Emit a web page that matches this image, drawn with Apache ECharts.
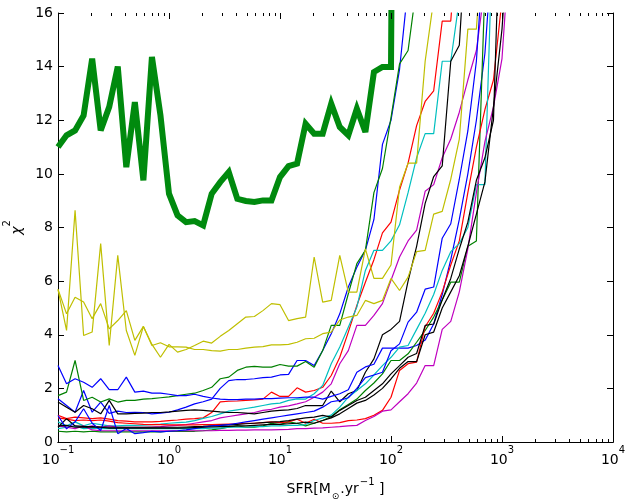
<!DOCTYPE html>
<html lang="en">
<head>
    <meta charset="UTF-8">
    <title>chi2 vs SFR</title>
    <script src="https://cdn.jsdelivr.net/npm/echarts@6/dist/echarts.min.js"></script>
    <style>
        html, body { margin: 0; padding: 0; background: #fff; }
    </style>
</head>
<body>
<div id="main" style="width:626px;height:504px;"></div>

<script type="text/javascript">
    // SFR grid (log spaced), one value per sample index
    var XS = [0.1, 0.1194, 0.1425, 0.1701, 0.2031, 0.2424, 0.2894, 0.3455, 0.4125, 0.4924,
        0.5878, 0.7017, 0.8377, 1.0, 1.194, 1.425, 1.701, 2.031, 2.424, 2.894,
        3.455, 4.125, 4.924, 5.878, 7.017, 8.377, 10.0, 11.94, 14.25, 17.01,
        20.31, 24.24, 28.94, 34.55, 41.25, 49.24, 58.78, 70.17, 83.77, 100.0,
        119.4, 142.5, 170.1, 203.1, 242.4, 289.4, 345.5, 412.5, 492.4, 587.8,
        701.7, 837.7, 1000, 1194];

    // chi2 values
    var thick = [11.0, 11.44, 11.62, 12.18, 14.3, 11.62, 12.5, 14.0, 10.25, 12.68, 9.76, 14.36, 12.18, 9.26, 8.45, 8.2, 8.24, 8.08, 9.26, 9.69, 10.07, 9.07, 8.99, 8.95, 9.01, 9.01, 9.88, 10.29, 10.38, 11.87, 11.5, 11.5, 12.62, 11.75, 11.44, 12.43, 11.56, 13.8, 13.99, 13.99, 60];
    var yA = [5.68, 4.16, 8.64, 3.97, 4.1, 7.4, 3.6, 6.96, 4.16, 3.23, 4.31, 3.64, 3.16, 3.64, 3.35, 3.45, 3.6, 3.76, 3.69, 3.94, 4.16, 4.41, 4.66, 4.68, 4.9, 5.16, 5.12, 4.53, 4.6, 4.66, 6.9, 5.22, 5.28, 6.96, 5.59, 5.59, 7.2, 6.1, 6.1, 6.6, 9.5, 10.4, 10.4, 14.2, 16.5];
    var yB = [5.7, 4.78, 5.4, 5.22, 4.6, 5.16, 4.22, 4.53, 4.9, 3.79, 4.31, 3.6, 3.7, 3.55, 3.55, 3.54, 3.45, 3.45, 3.41, 3.39, 3.45, 3.45, 3.5, 3.54, 3.56, 3.62, 3.62, 3.64, 3.72, 3.85, 3.87, 4.04, 4.1, 4.55, 4.66, 4.72, 5.28, 5.16, 5.28, 6.1, 5.65, 6.15, 7.1, 7.15, 8.5, 8.6, 9.8, 11.3, 15.4, 15.4, 20];
    var b1 = [2.85, 2.17, 2.36, 2.23, 2.04, 2.36, 1.95, 1.95, 2.42, 1.86, 1.9, 1.82, 1.82, 1.78, 1.73, 1.73, 1.78, 1.7, 1.64, 1.6, 1.58, 1.58, 1.6, 1.6, 1.62, 1.62, 1.64, 1.65, 1.65, 1.67, 1.67, 1.6, 1.7, 1.8, 1.95, 2.6, 2.8, 2.9, 3.5, 3.5, 3.5, 3.5, 3.6, 3.8, 4.4, 5.5, 6.8, 8.3, 10.0, 12.0, 14.5, 19];
    var bA = [1.61, 1.36, 1.11, 1.92, 1.11, 1.49, 1.07, 1.15, 1.1, 1.11, 1.1, 1.05, 1.08, 1.11, 1.2, 1.3, 1.42, 1.5, 1.6, 2.0, 2.29, 2.33, 2.33, 2.36, 2.4, 2.42, 2.5, 2.52, 3.04, 3.04, 2.85, 3.41, 4.04, 4.78, 5.78, 6.52, 7.15, 8.3, 11.1, 12.0, 13.9, 17];
    var bC = [0.99, 0.49, 0.75, 1.24, 0.7, 0.43, 1.36, 0.31, 0.5, 0.31, 0.35, 0.4, 0.38, 0.4, 0.42, 0.45, 0.5, 0.55, 0.6, 0.62, 0.65, 0.7, 0.75, 0.8, 0.85, 0.9, 0.95, 1.0, 1.05, 1.1, 1.15, 1.3, 1.5, 1.55, 1.65, 2.0, 2.4, 2.5, 2.6, 3.4, 3.66, 4.47, 4.84, 5.7, 5.78, 7.6, 8.14, 9.8, 11.6, 14.2, 19];
    var gA = [1.73, 1.86, 3.04, 1.55, 1.67, 1.49, 1.61, 1.49, 1.55, 1.55, 1.6, 1.62, 1.65, 1.68, 1.73, 1.78, 1.82, 1.92, 2.04, 2.36, 2.42, 2.67, 2.79, 2.82, 2.79, 2.79, 2.89, 2.83, 2.83, 3.0, 2.79, 3.41, 4.35, 4.35, 5.53, 6.65, 7.15, 9.3, 10.2, 12.1, 14.1, 14.6, 17];
    var gB = [0.4, 0.38, 0.4, 0.38, 0.4, 0.38, 0.38, 0.38, 0.38, 0.38, 0.38, 0.38, 0.38, 0.4, 0.4, 0.4, 0.4, 0.42, 0.45, 0.5, 0.55, 0.6, 0.55, 0.55, 0.6, 0.7, 0.65, 0.75, 0.7, 0.6, 0.7, 0.8, 0.95, 1.2, 1.4, 1.6, 1.92, 2.2, 2.54, 3.04, 3.04, 3.29, 3.72, 4.16, 4.66, 5.3, 5.96, 5.96, 7.3, 7.5, 17];
    var rA = [1.0, 0.87, 0.93, 0.9, 0.87, 0.9, 0.85, 0.8, 0.78, 0.75, 0.75, 0.75, 0.77, 0.8, 0.82, 0.85, 0.87, 0.9, 1.1, 1.5, 1.52, 1.53, 1.55, 1.57, 1.6, 1.86, 1.7, 1.7, 2.02, 1.86, 1.92, 2.04, 2.48, 3.16, 4.1, 5.09, 5.96, 6.8, 7.8, 8.2, 9.4, 10.4, 11.8, 12.7, 13.1, 15.7, 15.7, 20];
    var rB = [0.9, 0.85, 0.8, 0.82, 0.8, 0.82, 0.78, 0.72, 0.7, 0.68, 0.66, 0.65, 0.65, 0.64, 0.64, 0.64, 0.64, 0.65, 0.65, 0.66, 0.67, 0.68, 0.7, 0.7, 0.72, 0.75, 0.72, 0.75, 0.85, 0.7, 0.85, 0.7, 0.7, 0.72, 0.8, 0.82, 0.87, 1.0, 1.18, 1.67, 2.67, 2.92, 2.98, 4.3, 4.8, 5.6, 6.6, 7.5, 9.3, 11.0, 12.4, 13.5, 16.5, 20];
    var cA = [0.75, 0.6, 0.75, 0.6, 0.7, 0.65, 0.6, 0.6, 0.62, 0.62, 0.63, 0.65, 0.67, 0.7, 0.72, 0.74, 0.8, 0.88, 0.95, 1.05, 1.15, 1.2, 1.25, 1.3, 1.36, 1.42, 1.45, 1.55, 1.61, 1.6, 1.8, 2.11, 2.92, 3.54, 4.28, 5.03, 6.4, 7.15, 7.15, 7.5, 8.1, 9.3, 10.6, 11.5, 11.5, 14.2, 14.2, 16.5];
    var cB = [0.5, 0.55, 0.6, 0.5, 0.52, 0.5, 0.5, 0.5, 0.5, 0.5, 0.5, 0.5, 0.5, 0.5, 0.5, 0.5, 0.5, 0.5, 0.52, 0.52, 0.55, 0.55, 0.55, 0.57, 0.57, 0.6, 0.6, 0.62, 0.62, 0.65, 0.8, 0.9, 1.0, 1.3, 1.67, 1.92, 2.17, 2.5, 2.85, 3.16, 3.54, 3.6, 4.2, 4.8, 5.5, 6.4, 7.1, 7.4, 8.0, 9.6, 9.6, 20];
    var mA = [0.6, 0.55, 0.6, 0.55, 0.6, 0.55, 0.6, 0.55, 0.55, 0.55, 0.55, 0.56, 0.57, 0.6, 0.62, 0.65, 0.7, 0.75, 0.8, 0.9, 0.95, 1.0, 1.05, 1.1, 1.18, 1.22, 1.3, 1.35, 1.42, 1.5, 1.67, 1.86, 2.17, 2.92, 3.41, 4.35, 4.35, 4.72, 5.16, 6.03, 6.9, 7.5, 7.9, 9.35, 9.6, 10.6, 11.3, 12.3, 13.5, 14.6, 17];
    var mB = [0.62, 0.55, 0.5, 0.6, 0.45, 0.42, 0.42, 0.42, 0.42, 0.42, 0.42, 0.42, 0.42, 0.42, 0.42, 0.42, 0.42, 0.42, 0.42, 0.43, 0.43, 0.44, 0.44, 0.45, 0.45, 0.45, 0.46, 0.47, 0.5, 0.5, 0.52, 0.53, 0.55, 0.57, 0.6, 0.62, 0.8, 0.95, 1.15, 1.2, 1.5, 1.8, 2.2, 2.85, 2.85, 4.2, 4.5, 5.6, 7.2, 9.3, 11.2, 12.5, 14.3, 19];
    var kA = [1.49, 1.3, 1.11, 1.36, 1.24, 1.05, 1.55, 1.05, 1.05, 1.07, 1.08, 1.1, 1.1, 1.12, 1.15, 1.18, 1.2, 1.18, 1.15, 1.12, 1.1, 1.1, 1.08, 1.05, 1.1, 1.15, 1.18, 1.2, 1.25, 1.36, 1.36, 1.36, 1.9, 1.5, 1.8, 1.92, 2.6, 3.1, 4.0, 4.2, 4.5, 6.0, 7.3, 8.9, 9.9, 10.3, 14.2, 14.8, 20];
    var kB = [0.55, 0.87, 0.6, 0.58, 0.57, 0.56, 0.55, 0.55, 0.55, 0.55, 0.55, 0.55, 0.55, 0.55, 0.55, 0.56, 0.57, 0.58, 0.6, 0.62, 0.64, 0.66, 0.68, 0.7, 0.72, 0.74, 0.76, 0.8, 0.85, 0.9, 0.93, 0.99, 0.93, 1.18, 1.36, 1.55, 1.67, 1.92, 2.17, 2.54, 2.85, 3.16, 3.3, 4.35, 4.4, 5.3, 6.1, 7.2, 8.2, 9.76, 10.6, 12.0, 22];
    var kC = [0.6, 0.62, 0.55, 0.55, 0.55, 0.55, 0.52, 0.52, 0.52, 0.52, 0.52, 0.52, 0.52, 0.52, 0.52, 0.53, 0.54, 0.55, 0.56, 0.57, 0.58, 0.6, 0.6, 0.62, 0.64, 0.66, 0.66, 0.68, 0.7, 0.74, 0.7, 0.8, 0.9, 1.05, 1.25, 1.45, 1.55, 1.75, 2.0, 2.35, 2.75, 3.0, 3.0, 4.0, 4.1, 5.0, 5.6, 6.2, 7.3, 8.5, 9.7, 12.5, 15.4, 20];

    // log axis ticks: decades (major) and mantissas (minor)
    var minorMant = [2, 3, 4, 5, 6, 7, 8, 9];
    var decades = [0.1, 1, 10, 100, 1000, 10000];

    var FONT = 'DejaVu Sans';
    var myChart = echarts.init(document.getElementById('main'));

    function pairs(ys) {
        return ys.map(function (y, i) { return [XS[i], y]; });
    }
    function thin(data, color) {
        return {
            type: 'line', data: pairs(data), symbol: 'none', silent: true,
            lineStyle: {color: color, width: 1.2}, clip: true, z: 2
        };
    }

    // tick marks along top and bottom, drawn through the x scale
    var tickData = [];
    decades.forEach(function (d) {
        tickData.push([d, 1, 6]);
        if (d < 10000) {
            minorMant.forEach(function (m) { tickData.push([d * m, 1, 3]); });
        }
    });

    function supText(e) {
        return e < 0 ? '\u2212' + (-e) : '' + e;
    }

    var option = {
        backgroundColor: '#ffffff',
        animation: false,
        grid: {left: 58, right: 13, top: 13, bottom: 62, containLabel: false, outerBoundsMode: 'none'},
        xAxis: [{
            type: 'log', logBase: 10, min: 0.1, max: 10000,
            position: 'bottom',
            axisLine: {lineStyle: {color: '#000', width: 1}},
            axisTick: {show: false},
            splitLine: {show: false},
            axisLabel: {
                margin: 3,
                formatter: function (v) {
                    var e = Math.round(Math.log10(v));
                    return '{b|10}{s|' + supText(e) + '}';
                },
                rich: {
                    b: {fontFamily: FONT, fontSize: 14, color: '#000', lineHeight: 22, verticalAlign: 'bottom'},
                    s: {fontFamily: FONT, fontSize: 10, color: '#000', lineHeight: 12, verticalAlign: 'top'}
                }
            },
            name: '{t|SFR[M}{o|\u2299}{t|.yr}{u|\u22121}{t| ]}',
            nameLocation: 'middle',
            nameGap: 35,
            nameTextStyle: {
                rich: {
                    t: {fontFamily: FONT, fontSize: 14, color: '#000', lineHeight: 24, verticalAlign: 'middle'},
                    o: {fontFamily: FONT, fontSize: 9, color: '#000', lineHeight: 10, verticalAlign: 'bottom', padding: [0, 1, 0, 1]},
                    u: {fontFamily: FONT, fontSize: 10, color: '#000', lineHeight: 12, verticalAlign: 'top', padding: [0, 0, 0, 1]}
                }
            }
        }, {
            type: 'log', logBase: 10, min: 0.1, max: 10000,
            position: 'top',
            axisLine: {lineStyle: {color: '#000', width: 1}},
            axisTick: {show: false},
            axisLabel: {show: false},
            splitLine: {show: false}
        }],
        yAxis: [{
            type: 'value', min: 0, max: 16, interval: 2,
            position: 'left',
            axisLine: {show: true, lineStyle: {color: '#000', width: 1}},
            axisTick: {show: true, inside: true, length: 6, lineStyle: {color: '#000', width: 1}},
            splitLine: {show: false},
            axisLabel: {margin: 5, fontFamily: FONT, fontSize: 14, color: '#000'},
            name: '{c|\u03c7}{s|2}',
            nameLocation: 'middle',
            nameRotate: 90,
            nameGap: 34,
            nameTextStyle: {
                rich: {
                    c: {fontFamily: FONT, fontSize: 14, fontStyle: 'italic', color: '#000', lineHeight: 22, verticalAlign: 'bottom'},
                    s: {fontFamily: FONT, fontSize: 10, color: '#000', lineHeight: 12, verticalAlign: 'top'}
                }
            }
        }, {
            type: 'value', min: 0, max: 16, interval: 2,
            position: 'right',
            axisLine: {show: true, lineStyle: {color: '#000', width: 1}},
            axisTick: {show: true, inside: true, length: 6, lineStyle: {color: '#000', width: 1}},
            axisLabel: {show: false},
            splitLine: {show: false}
        }],
        series: [
            thin(bA, '#0000ff'),
            thin(gA, '#008000'),
            thin(rA, '#ff0000'),
            thin(cA, '#00bfbf'),
            thin(mA, '#bf00bf'),
            thin(yA, '#bfbf00'),
            thin(kA, '#000000'),
            thin(b1, '#0000ff'),
            thin(gB, '#008000'),
            thin(rB, '#ff0000'),
            thin(cB, '#00bfbf'),
            thin(mB, '#bf00bf'),
            thin(yB, '#bfbf00'),
            thin(kB, '#000000'),
            thin(bC, '#0000ff'),
            thin(kC, '#000000'),
            {
                type: 'line', data: pairs(thick), symbol: 'none', silent: true,
                lineStyle: {color: '#008a0e', width: 6, join: 'miter', miterLimit: 4}, clip: true, z: 3
            },
            {
                type: 'custom', silent: true, z: 4,
                data: tickData,
                renderItem: function (params, api) {
                    var x = Math.round(api.coord([api.value(0), api.value(1)])[0]) + 0.5;
                    var len = api.value(2);
                    var cs = params.coordSys;
                    var bot = cs.y + cs.height;
                    return {
                        type: 'group',
                        children: [
                            {type: 'line', shape: {x1: x, y1: bot, x2: x, y2: bot - len}, style: {stroke: '#000', lineWidth: 1}},
                            {type: 'line', shape: {x1: x, y1: cs.y, x2: x, y2: cs.y + len}, style: {stroke: '#000', lineWidth: 1}}
                        ]
                    };
                }
            }
        ]
    };
    myChart.setOption(option);
</script>
</body>
</html>
